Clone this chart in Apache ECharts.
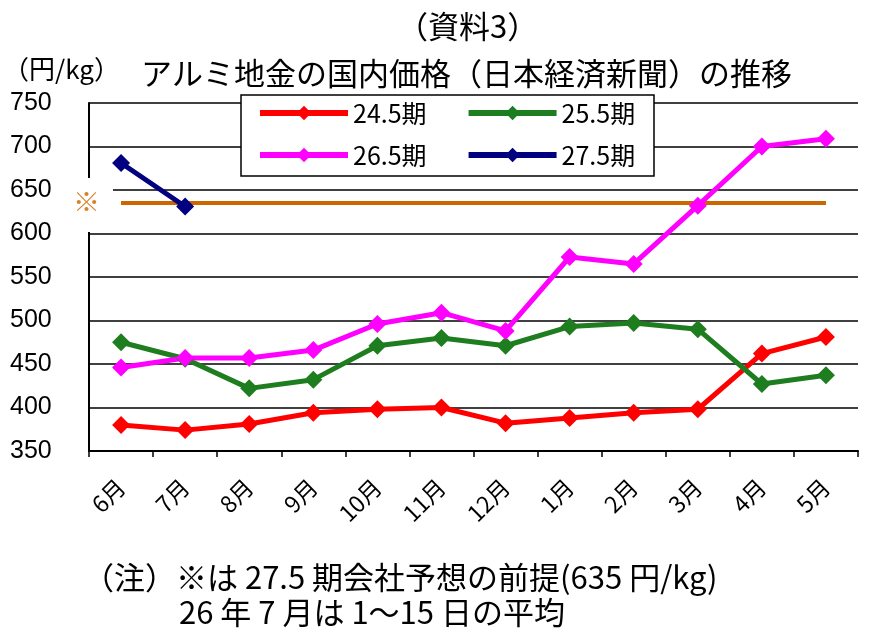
<!DOCTYPE html>
<html>
<head>
<meta charset="utf-8">
<script src="https://cdn.jsdelivr.net/npm/echarts@6/dist/echarts.min.js"></script>
<style>
  html, body { margin: 0; padding: 0; background: #fff; }
  #main { width: 871px; height: 640px; }
</style>
</head>
<body>
<div id="main"></div>
<script>
var months = ['6月', '7月', '8月', '9月', '10月', '11月', '12月', '1月', '2月', '3月', '4月', '5月'];
var yTicks = { min: 350, max: 750, interval: 50 };
var s245 = [380, 374, 381, 394, 398, 400, 382, 388, 394, 398, 462, 481];
var s255 = [475, 456, 422, 432, 471, 480, 471, 493, 497, 490, 427, 437];
var s265 = [446, 457, 457, 466, 496, 509, 488, 573, 565, 632, 700, 709];
var s275 = [681, 631];
var premise = 635;
var premiseLine = months.map(function () { return premise; });

var font = 'Noto Sans CJK JP';

function lineSeries(name, data, color) {
  return {
    name: name,
    type: 'line',
    data: data,
    symbol: 'diamond',
    symbolSize: 18,
    lineStyle: { color: color, width: 5 },
    itemStyle: { color: color },
    z: 3
  };
}

function plainTitle(text, left, top, size) {
  return { text: text, left: left, top: top, textStyle: { fontSize: size, fontWeight: 'normal', color: '#000', fontFamily: font } };
}

var chartDom = document.getElementById('main');
var myChart = echarts.init(chartDom);
var option = {
  backgroundColor: '#fff',
  animation: false,
  textStyle: { fontFamily: font },
  title: [
    plainTitle('（資料3）', 392, 6, 31),
    plainTitle('アルミ地金の国内価格（日本経済新聞）の推移', 136, 53, 31),
    plainTitle('（円/kg）', -2, 51, 26),
    plainTitle('（注）※は 27.5 期会社予想の前提(635 円/kg)', 78, 557, 31),
    plainTitle('26 年 7 月は 1～15 日の平均', 174, 592, 31)
  ],
  legend: {
    data: ['24.5期', '25.5期', '26.5期', '27.5期'],
    left: 257,
    top: 95,
    width: 420,
    orient: 'horizontal',
    padding: 0,
    itemWidth: 88,
    itemHeight: 18,
    itemGap: 6,
    lineStyle: { width: 6 },
    textStyle: { fontSize: 25, color: '#000', lineHeight: 36, padding: [0, 33, 0, 0], fontFamily: font },
    z: 10
  },
  grid: { left: 89, right: 13, top: 103, bottom: 189 },
  xAxis: {
    type: 'category',
    data: months,
    boundaryGap: true,
    axisLine: { lineStyle: { color: '#000', width: 2 } },
    axisTick: { show: true, length: 6, lineStyle: { color: '#000', width: 1.5 } },
    axisLabel: { rotate: 45, fontSize: 23, color: '#000', margin: 32, fontFamily: font },
    splitLine: { show: false }
  },
  yAxis: {
    type: 'value',
    min: yTicks.min,
    max: yTicks.max,
    interval: yTicks.interval,
    axisLine: { show: true, lineStyle: { color: '#000', width: 2 } },
    axisTick: { show: false },
    axisLabel: { fontSize: 25, color: '#000', align: 'left', margin: 79, fontFamily: 'Liberation Sans' },
    splitLine: { lineStyle: { color: '#000', width: 1.5 } }
  },
  graphic: [
    { type: 'rect', shape: { x: 80, y: 178, width: 33, height: 54 }, style: { fill: '#fff' }, z: 50 },
    { type: 'text', left: 73, top: 188, style: { text: '※', fontSize: 27, fill: '#d9822b', fontFamily: font }, z: 60 },
    { type: 'rect', shape: { x: 241, y: 95, width: 413, height: 81 }, style: { fill: '#fff', stroke: '#000', lineWidth: 1.5 }, z: 5 }
  ],
  series: [
    lineSeries('24.5期', s245, '#ff0000'),
    lineSeries('25.5期', s255, '#1e7d1e'),
    lineSeries('26.5期', s265, '#ff00ff'),
    lineSeries('27.5期', s275, '#000080'),
    {
      name: '前提',
      type: 'line',
      data: premiseLine,
      symbol: 'none',
      lineStyle: { color: '#cc6600', width: 4 },
      z: 2
    }
  ]
};
option && myChart.setOption(option);
</script>
</body>
</html>
